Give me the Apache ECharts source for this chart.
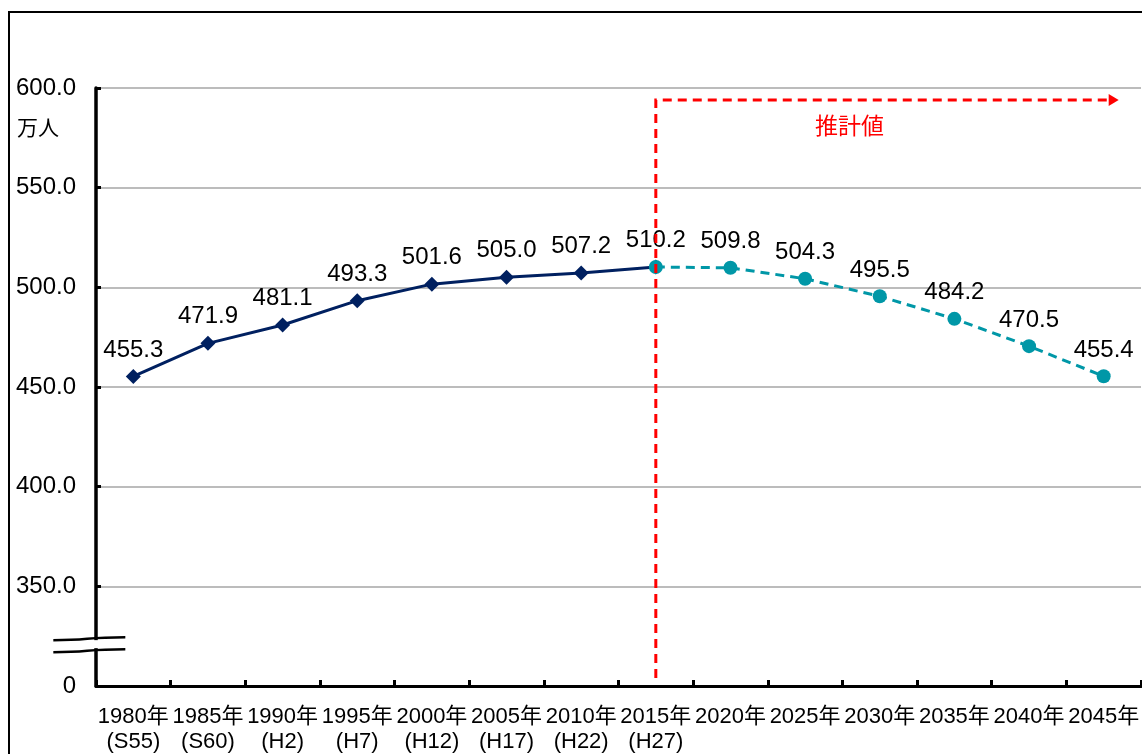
<!DOCTYPE html>
<html>
<head>
<meta charset="utf-8">
<script src="https://cdn.jsdelivr.net/npm/echarts@6/dist/echarts.min.js"></script>
<style>
  html, body { margin: 0; padding: 0; background: #fff; }
  #chart { width: 1142px; height: 754px; }
</style>
</head>
<body>
<div id="chart"></div>
<script>
// Population (万人), census years and projections
const years = ['1980年','1985年','1990年','1995年','2000年','2005年','2010年','2015年','2020年','2025年','2030年','2035年','2040年','2045年'];
const eraLabels = ['(S55)','(S60)','(H2)','(H7)','(H12)','(H17)','(H22)','(H27)','','','','','',''];
const actualValues = [455.3, 471.9, 481.1, 493.3, 501.6, 505.0, 507.2, 510.2];
const projectedValues = [510.2, 509.8, 504.3, 495.5, 484.2, 470.5, 455.4];
const yTickLabels = ['0', '350.0', '400.0', '450.0', '500.0', '550.0', '600.0'];

// The value axis is broken between 0 and 350: axis units are (value - 300)
const BREAK_OFFSET = 300;
const toAxis = v => v - BREAK_OFFSET;

const FONT = '"Liberation Sans", Arial, "Noto Sans CJK JP", sans-serif';

const actualData = years.map((y, i) => i < actualValues.length ? toAxis(actualValues[i]) : null);
const projStart = actualValues.length - 1;
const projectedData = years.map((y, i) => i >= projStart ? toAxis(projectedValues[i - projStart]) : null);

const chart = echarts.init(document.getElementById('chart'), null, { renderer: 'canvas' });

const labelFmt = p => (p.value + BREAK_OFFSET).toFixed(1);

chart.setOption({
  animation: false,
  backgroundColor: '#ffffff',
  textStyle: { fontFamily: FONT },
  grid: { left: 96, top: 88, width: 1049, bottom: 66, containLabel: false },
  xAxis: {
    type: 'category',
    data: years,
    boundaryGap: true,
    axisLine: { lineStyle: { color: '#000', width: 3 } },
    axisTick: { show: true, inside: true, length: 6, alignWithLabel: false, lineStyle: { color: '#000', width: 3 } },
    axisLabel: {
      interval: 0,
      margin: 18,
      color: '#000',
      fontSize: 22,
      lineHeight: 25,
      fontFamily: FONT,
      hideOverlap: false,
      formatter: (val, idx) => eraLabels[idx] ? val + '\n' + eraLabels[idx] : val
    },
    splitLine: { show: false }
  },
  yAxis: {
    type: 'value',
    min: 0,
    max: 300,
    interval: 50,
    axisLine: { show: true, lineStyle: { color: '#000', width: 3.5 } },
    axisTick: { show: true, inside: true, length: 5, lineStyle: { color: '#000', width: 3 } },
    axisLabel: {
      color: '#000',
      fontSize: 24,
      margin: 20,
      fontFamily: FONT,
      formatter: v => yTickLabels[Math.round(v / 50)]
    },
    splitLine: {
      show: true,
      lineStyle: { color: '#a6a6a6', width: 1.5 }
    }
  },
  series: [
    {
      name: '実績',
      type: 'line',
      data: actualData,
      z: 3,
      symbol: 'diamond',
      symbolSize: 15,
      itemStyle: { color: '#002060' },
      lineStyle: { color: '#002060', width: 3 },
      label: {
        show: true,
        position: 'top',
        distance: 7,
        color: '#000',
        fontSize: 24,
        fontFamily: FONT,
        formatter: labelFmt
      }
    },
    {
      name: '推計値',
      type: 'line',
      data: projectedData,
      z: 4,
      symbol: 'circle',
      symbolSize: 14,
      itemStyle: { color: '#0097a7' },
      lineStyle: { color: '#0097a7', width: 3, type: [9, 6] },
      label: {
        show: true,
        position: 'top',
        distance: 7,
        color: '#000',
        fontSize: 24,
        fontFamily: FONT,
        formatter: p => p.dataIndex === projStart ? '' : labelFmt(p)
      }
    }
  ]
});

// Decorations positioned from the axes: frame, unit, axis break, projection marker
function px(xIdx, yVal) {
  return chart.convertToPixel({ gridIndex: 0 }, [xIdx, yVal]);
}
const axisX = chart.convertToPixel({ xAxisIndex: 0 }, 0) - 37;
const breakY = chart.convertToPixel({ yAxisIndex: 0 }, 21);
const bx0 = axisX - 43, bx1 = axisX + 29, bmid = axisX - 5;

function breakCurve(y) {
  return {
    type: 'bezierCurve',
    z: 20,
    shape: { x1: bx0, y1: y + 3, cpx1: bmid, cpy1: y + 3, cpx2: bmid - 8, cpy2: y, x2: bx1, y2: y },
    style: { stroke: '#000', lineWidth: 2.5, fill: null }
  };
}

const projX = px(projStart, 0)[0];
const topY = chart.convertToPixel({ yAxisIndex: 0 }, 294);
const bottomY = chart.convertToPixel({ yAxisIndex: 0 }, 4);
const endX = px(years.length - 1, 0)[0] + 5;
const labelX = (px(9, 0)[0] + px(10, 0)[0]) / 2 + 7;
const labelY = chart.convertToPixel({ yAxisIndex: 0 }, 280);

chart.setOption({
  graphic: [
    {
      type: 'rect',
      z: 1,
      silent: true,
      shape: { x: 9, y: 12, width: 1200, height: 800 },
      style: { fill: null, stroke: '#000', lineWidth: 2 }
    },
    {
      type: 'text',
      z: 20,
      x: 17,
      y: 119,
      style: { text: '万人', fill: '#000', font: '21px ' + FONT }
    },
    {
      type: 'rect',
      z: 19,
      shape: { x: axisX - 4, y: breakY - 4, width: 8, height: 8 },
      style: { fill: '#fff' }
    },
    breakCurve(breakY - 7),
    breakCurve(breakY + 5),
    {
      type: 'polyline',
      z: 30,
      shape: { points: [[projX, bottomY], [projX, topY], [endX, topY]] },
      style: { stroke: '#ff0000', lineWidth: 3, lineDash: [9, 6], fill: null }
    },
    {
      type: 'polygon',
      z: 30,
      shape: { points: [[endX, topY - 6], [endX + 10, topY], [endX, topY + 6]] },
      style: { fill: '#ff0000' }
    },
    {
      type: 'text',
      z: 30,
      x: labelX,
      y: labelY,
      style: {
        text: '推計値',
        fill: '#ff0000',
        font: '23px ' + FONT,
        align: 'center',
        verticalAlign: 'middle'
      }
    }
  ]
});
</script>
</body>
</html>
